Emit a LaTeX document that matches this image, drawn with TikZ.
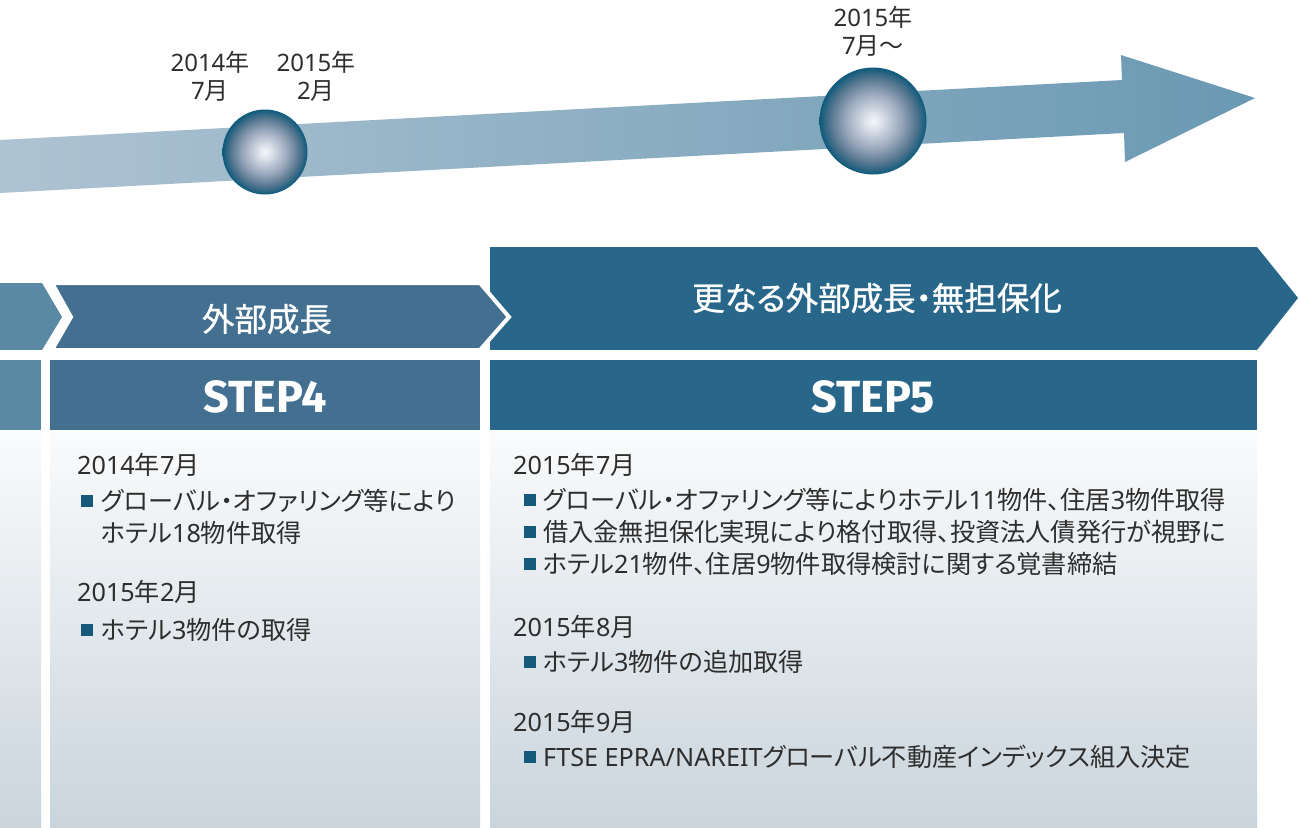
\documentclass[tikz,border=0pt]{standalone}
\usepackage{fontspec}
\newfontfamily\jp{Noto Sans CJK JP}[RawFeature=+palt]
\newfontfamily\jpfix{Noto Sans CJK JP}
\newfontfamily\latn{Noto Sans}
\newcommand\ltn[1]{{\latn #1}}
\newfontfamily\stepfont{Fira Sans}
\definecolor{arrL}{HTML}{AEC3D2}
\definecolor{arrR}{HTML}{6A99B3}
\definecolor{cthree}{HTML}{5A89A4}
\definecolor{cfour}{HTML}{436F90}
\definecolor{cfive}{HTML}{28678A}
\definecolor{panT}{HTML}{FAFBFC}
\definecolor{panB}{HTML}{C9D4DC}
\definecolor{txt}{HTML}{2E2E2E}
\definecolor{bul}{HTML}{17597A}
\definecolor{sphA}{HTML}{F5F6F9}
\definecolor{sphB}{HTML}{DCE1EA}
\definecolor{sphC}{HTML}{9AA8BD}
\definecolor{sphD}{HTML}{55768F}
\definecolor{sphE}{HTML}{0E5A7B}
\pgfdeclareradialshading{sph}{\pgfpoint{0bp}{0bp}}{color(0bp)=(sphA); color(4bp)=(sphB); color(13bp)=(sphC); color(20bp)=(sphD); color(25bp)=(sphE); color(50bp)=(sphE)}
\tikzset{
  sphere/.style={circle, shading=sph, draw=none, inner sep=0pt},
  toplabel/.style={font=\jpfix\fontsize{24}{28}\selectfont, text=txt, align=center, inner sep=0pt},
  bannertext/.style={font=\jp\fontsize{32.5}{36}\selectfont\addfontfeatures{FakeBold=1}, text=white, inner sep=0pt},
  steptext/.style={font=\stepfont\bfseries\fontsize{45}{50}\selectfont, text=white, inner sep=0pt},
  paneltext/.style={font=\jp\fontsize{25.2}{28}\selectfont, text=txt, anchor=west, inner sep=0pt},
  bulletbox/.style={rectangle, fill=bul, minimum size=12pt, inner sep=0pt},
  panel/.style={top color=panT, bottom color=panB, draw=none},
}
\begin{document}
\begin{tikzpicture}[x=1pt,y=-1pt]
\useasboundingbox (0,0) rectangle (1300,827);
\clip (0,0) rectangle (1300,827);
\fill[white] (0,0) rectangle (1300,827);

% big arrow
\path[left color=arrL, right color=arrR] (0,140) -- (1122,80) -- (1121,55) -- (1255,98) -- (1125,162) -- (1124,133) -- (0,193) -- cycle;

% spheres
\node[sphere, minimum size=85pt] (s1) at (265,152) {};
\node[sphere, minimum size=107pt] (s2) at (873,121) {};

% top labels
\node[toplabel] (l1) at (210,76) {\ltn{2014}年\\\ltn{7}月};
\node[toplabel] (l2) at (316,76) {\ltn{2015}年\\\ltn{2}月};
\node[toplabel] (l3) at (873,31) {\ltn{2015}年\\\ltn{7}月〜};

% banners
\path[fill=cthree] (-5,283) -- (42,283) -- (62,317) -- (42,350) -- (-5,350) -- cycle;
\path[fill=cfive] (490,247) -- (1257,247) -- (1298,298) -- (1257,350) -- (490,350) -- cycle;
\path[fill=cfour, draw=white, line width=4pt, line join=miter] (52,283) -- (71,317) -- (52,350) -- (480,350) -- (509,317) -- (480,283) -- cycle;
\fill[white] (0,350) rectangle (1300,360);

\node[bannertext] (b4) at (267,319) {外部成長};
\node[bannertext] (b5) at (877,298) {更なる外部成長・無担保化};

% step boxes
\fill[cthree] (-5,360) rectangle (41,430);
\fill[cfour] (50,360) rectangle (480,430);
\fill[cfive] (490,360) rectangle (1257,430);
\node[steptext] (st4) at (265,397) {STEP4};
\node[steptext] (st5) at (873,397) {STEP5};

% panels
\path[panel] (-5,432) rectangle (41,830);
\path[panel] (50,432) rectangle (480,830);
\path[panel] (490,432) rectangle (1257,830);

% STEP4 panel text
\node[paneltext] (d41) at (77,465) {\ltn{2014}年\ltn{7}月};
\node[bulletbox] (q41) at (87,501) {};
\node[paneltext] (t41) at (101,501) {グローバル・オファリング等により};
\node[paneltext] (t42) at (101,533) {ホテル\ltn{18}物件取得};
\node[paneltext] (d42) at (77,592) {\ltn{2015}年\ltn{2}月};
\node[bulletbox] (q42) at (87,630) {};
\node[paneltext] (t43) at (101,630) {ホテル\ltn{3}物件の取得};

% STEP5 panel text
\node[paneltext] (d51) at (513,465) {\ltn{2015}年\ltn{7}月};
\node[bulletbox] (q51) at (530,500) {};
\node[paneltext] (t51) at (543,500) {グローバル・オファリング等によりホテル\ltn{11}物件、住居\ltn{3}物件取得};
\node[bulletbox] (q52) at (530,532) {};
\node[paneltext] (t52) at (543,532) {借入金無担保化実現により格付取得、投資法人債発行が視野に};
\node[bulletbox] (q53) at (530,564) {};
\node[paneltext] (t53) at (543,564) {ホテル\ltn{21}物件、住居\ltn{9}物件取得検討に関する覚書締結};
\node[paneltext] (d52) at (513,627) {\ltn{2015}年\ltn{8}月};
\node[bulletbox] (q54) at (530,662) {};
\node[paneltext] (t54) at (543,662) {ホテル\ltn{3}物件の追加取得};
\node[paneltext] (d53) at (513,722) {\ltn{2015}年\ltn{9}月};
\node[bulletbox] (q55) at (530,757) {};
\node[paneltext] (t55) at (543,757) {\ltn{FTSE EPRA/NAREIT}グローバル不動産インデックス組入決定};
\end{tikzpicture}
\end{document}
